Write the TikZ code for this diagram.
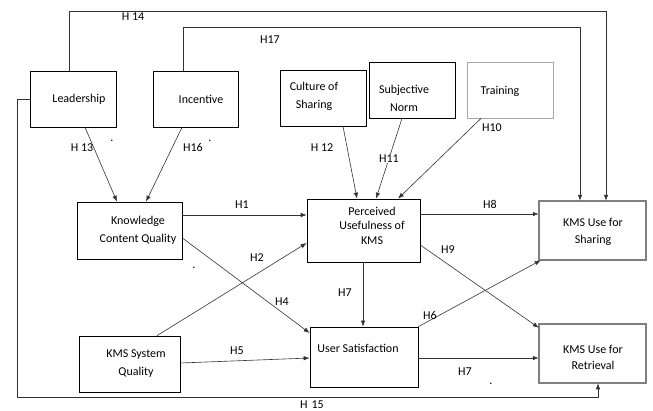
\documentclass[tikz,border=0pt]{standalone}
\usepackage{fontspec}
\setmainfont{Carlito}
\usetikzlibrary{arrows.meta,calc}
\begin{document}
\begin{tikzpicture}[x=1pt,y=-1pt,
  box/.style={draw=black, line width=0.7pt, rectangle, inner sep=0pt},
  dbox/.style={draw=black, line width=0.5pt, double=gray, double distance=1.6pt, rectangle, inner sep=0pt},
  gbox/.style={draw=gray!70, line width=0.8pt, rectangle, inner sep=0pt},
  txt/.style={font=\fontsize{12}{18}\selectfont, align=center, inner sep=0pt},
  lab/.style={font=\fontsize{12}{14}\selectfont, inner sep=1pt},
  conn/.style={draw=black!80, line width=0.6pt},
  arr/.style={conn, -{Latex[length=6pt,width=4.5pt]}},
]
\useasboundingbox (0,0) rectangle (653,410);
% boxes
\node[box, minimum width=86pt, minimum height=56pt] (lead) at (73,99) {};
\node[txt] (leadT) at (79,99) {Leadership};
\node[box, minimum width=85pt, minimum height=56pt] (inc) at (195.5,99) {};
\node[txt] (incT) at (201,99) {Incentive};
\node[box, minimum width=86pt, minimum height=56pt] (cult) at (323,98) {};
\node[txt] (cultT) at (314,96.5) {Culture of\\Sharing};
\node[box, minimum width=86pt, minimum height=56pt] (subj) at (412,90) {};
\node[txt] (subjT) at (404,98.5) {Subjective\\Norm};
\node[gbox, minimum width=86pt, minimum height=56pt] (train) at (510,90) {};
\node[txt] (trainT) at (500,91) {Training};
\node[box, minimum width=105pt, minimum height=57pt] (kcq) at (129.5,230.5) {};
\node[txt] (kcqT) at (138,230) {Knowledge\\Content Quality};
\node[box, minimum width=101pt, minimum height=56pt] (ksq) at (129.5,364) {};
\node[txt] (ksqT) at (136,364) {KMS System\\Quality};
\node[box, minimum width=113pt, minimum height=63pt] (pu) at (363.5,230.5) {};
\node[txt, font=\fontsize{12}{14.5}\selectfont] (puT) at (372,225.5) {Perceived\\Usefulness of\\KMS};
\node[box, minimum width=108pt, minimum height=60pt] (us) at (364,357) {};
\node[txt] (usT) at (358,348) {User Satisfaction};
\node[dbox, minimum width=107pt, minimum height=59pt] (sh) at (592.5,230.5) {};
\node[txt, font=\fontsize{12}{17}\selectfont] (shT) at (593,231.5) {KMS Use for\\Sharing};
\node[dbox, minimum width=107pt, minimum height=59pt] (ret) at (592.5,353.5) {};
\node[txt, font=\fontsize{12}{16}\selectfont] (retT) at (593,357) {KMS Use for\\Retrieval};

% long connectors
\coordinate (h14top) at (69,11);
\coordinate (h17top) at (183,27);
\draw[arr] ([xshift=-4pt]lead.north) -- (h14top) -| ([xshift=13.5pt]sh.north);
\draw[arr] ([xshift=-12.5pt]inc.north) -- (h17top) -| ([xshift=-12.5pt]sh.north);
\coordinate (h15a) at (17,99);
\coordinate (h15b) at (17,397);
\draw[arr] (lead.west) -- (h15a) -- (h15b) -| ([xshift=5.5pt]ret.south);

% arrows into KCQ
\draw[arr] ([xshift=12pt]lead.south) -- ([xshift=-12.5pt]kcq.north);
\draw[arr] ([xshift=-13.5pt]inc.south) -- ([xshift=16.5pt]kcq.north);
% arrows into PU
\draw[arr] ([xshift=20pt]cult.south) -- ([xshift=-6.5pt]pu.north);
\draw[arr] ([xshift=-10pt]subj.south) -- node[lab, fill=white, pos=0.5] (h11) {H11} ([xshift=12.5pt]pu.north);
\draw[arr] ([xshift=-29pt]train.south) -- ([xshift=34.5pt]pu.north);
\draw[arr] ([yshift=15.5pt]kcq.east) -- ([yshift=15.5pt]pu.west);
\draw[arr] ([xshift=27.5pt]ksq.north) -- ([yshift=-12.5pt]pu.west);
% into US
\draw[arr] ([yshift=-7.5pt]kcq.east) -- ([yshift=24pt]us.west);
\draw[arr] ([yshift=1pt]ksq.east) -- ([yshift=-1pt]us.west);
\draw[arr] ([xshift=-0.5pt]pu.south) -- ([xshift=-1pt]us.north);
% into Sharing / Retrieval
\draw[arr] ([yshift=16.5pt]pu.east) -- ([yshift=16.5pt]sh.west);
\draw[arr] ([yshift=-14.5pt]pu.east) -- ([yshift=-4pt]ret.north west);
\draw[arr] (us.north east) -- ([xshift=2pt]sh.south west);
\draw[arr] ([yshift=-1pt]us.east) -- ([yshift=-4.5pt]ret.west);

% labels
\node[lab] (l14) at (133,17) {H 14};
\node[lab] (l17) at (270,40) {H17};
\node[lab] (l15) at (312,404.5) {H\,\,15};
\node[lab] (l13) at (82,148) {H 13};
\node[lab] (d13) at (112,141) {.};
\node[lab] (l16) at (193,147) {H16};
\node[lab] (d16) at (210,141) {.};
\node[lab] (l12) at (322,148) {H 12};
\node[lab] (l10) at (492,128) {H10};
\node[lab] (l1) at (242,205) {H1};
\node[lab] (l2) at (257,258) {H2};
\node[lab] (l4) at (282,302) {H4};
\node[lab] (d4) at (194,268) {.};
\node[lab] (l5) at (237,351) {H5};
\node[lab] (l7a) at (345,293) {H7};
\node[lab] (l8) at (490,204) {H8};
\node[lab] (l9) at (448,250) {H9};
\node[lab] (l6) at (430,315) {H6};
\node[lab] (l7b) at (465,372) {H7};
\node[lab] (d7) at (491,384) {.};
\end{tikzpicture}
\end{document}
